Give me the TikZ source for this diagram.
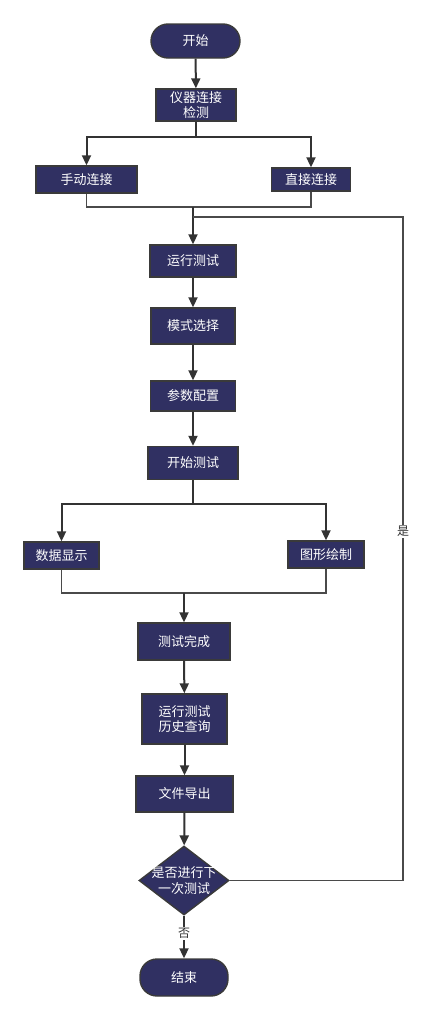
\documentclass[tikz,border=0pt]{standalone}
\usepackage{fontspec}
\newfontfamily\cjk{Noto Sans CJK SC}
\usetikzlibrary{arrows.meta,shapes.geometric}
\definecolor{boxfill}{HTML}{303062}
\definecolor{boxline}{HTML}{3A3A3A}
\definecolor{lnk}{HTML}{333333}
\definecolor{lnkgray}{HTML}{4A4A4A}
\begin{document}
\begin{tikzpicture}[x=1pt,y=-1pt,
  every node/.style={font=\cjk\fontsize{13}{15.5}\selectfont},
  proc/.style={draw=boxline,line width=1.4pt,fill=boxfill,text=white,inner sep=0pt,align=center},
  term/.style={proc,rounded corners=17pt},
  dia/.style={draw=boxline,line width=1.4pt,fill=boxfill,diamond,inner sep=0pt},
  arr/.style={draw=lnk,line width=2pt,-{Triangle[length=10pt,width=9pt]}},
  ln/.style={draw=lnk,line width=2pt},
  lng/.style={draw=lnkgray,line width=1.7pt},
  lbl/.style={fill=white,text=lnk,inner sep=1pt,font=\cjk\fontsize{12}{14}\selectfont}]
\useasboundingbox (0,0) rectangle (427,1020);
% nodes
\node[term,minimum width=89pt,minimum height=34pt] (kaishi) at (195.5,41) {开始};
\node[proc,minimum width=80pt,minimum height=32pt] (yiqi) at (196,105) {仪器连接\\检测};
\node[proc,minimum width=101pt,minimum height=27pt] (shoudong) at (86.5,179.5) {手动连接};
\node[proc,minimum width=79pt,minimum height=23pt] (zhijie) at (311,179.5) {直接连接};
\node[proc,minimum width=86pt,minimum height=32pt] (yunxing) at (193,261) {运行测试};
\node[proc,minimum width=84pt,minimum height=36pt] (moshi) at (193,326) {模式选择};
\node[proc,minimum width=85pt,minimum height=30pt] (canshu) at (193,396) {参数配置};
\node[proc,minimum width=90pt,minimum height=33pt] (kstest) at (193,463) {开始测试};
\node[proc,minimum width=75pt,minimum height=27pt] (shuju) at (61.5,555.5) {数据显示};
\node[proc,minimum width=76pt,minimum height=27pt] (tuxing) at (326,554.5) {图形绘制};
\node[proc,minimum width=92pt,minimum height=37pt] (wancheng) at (184,641.5) {测试完成};
\node[proc,minimum width=85pt,minimum height=50pt] (lishi) at (184.5,719) {运行测试\\历史查询};
\node[proc,minimum width=97pt,minimum height=36pt] (daochu) at (184.5,794) {文件导出};
\node[dia,minimum width=90pt,minimum height=69pt] (panduan) at (184,880.5) {};
\node[text=white,align=center,inner sep=0pt] (pdtext) at (184,880.5) {是否进行下\\一次测试};
\node[term,minimum width=88pt,minimum height=37pt] (jieshu) at (184,977.5) {结束};
% junction points
\coordinate (s1) at (196,137);
\coordinate (m1) at (193,207);
\coordinate (loopin) at (193,217);
\coordinate (loopr) at (403,217);
\coordinate (loopb) at (403,880.5);
\coordinate (s2) at (193,504);
\coordinate (m2) at (184,593);
% connectors
\draw[arr] (kaishi) -- (yiqi);
\draw[ln] (yiqi) -- (s1);
\draw[arr] (s1) -| (shoudong);
\draw[arr] (s1) -| (zhijie);
\draw[lng] (shoudong) |- (m1);
\draw[lng] (zhijie) |- (m1);
\draw[arr] (m1) -- (yunxing);
\draw[arr] (yunxing) -- (moshi);
\draw[arr] (moshi) -- (canshu);
\draw[arr] (canshu) -- (kstest);
\draw[ln] (kstest) -- (s2);
\draw[arr] (s2) -| (shuju);
\draw[arr] (s2) -| (tuxing);
\draw[lng] (shuju) |- (m2);
\draw[lng] (tuxing) |- (m2);
\draw[arr] (m2) -- (wancheng);
\draw[arr] (wancheng) -- (lishi);
\draw[arr] (lishi) -- (daochu);
\draw[arr] (daochu) -- (panduan);
\draw[arr] (panduan) -- node[lbl,pos=0.42] {否} (jieshu);
\draw[lng] (panduan.east) -- (loopb) -- node[lbl,pos=0.526] {是} (loopr) -- (loopin);
\end{tikzpicture}
\end{document}
